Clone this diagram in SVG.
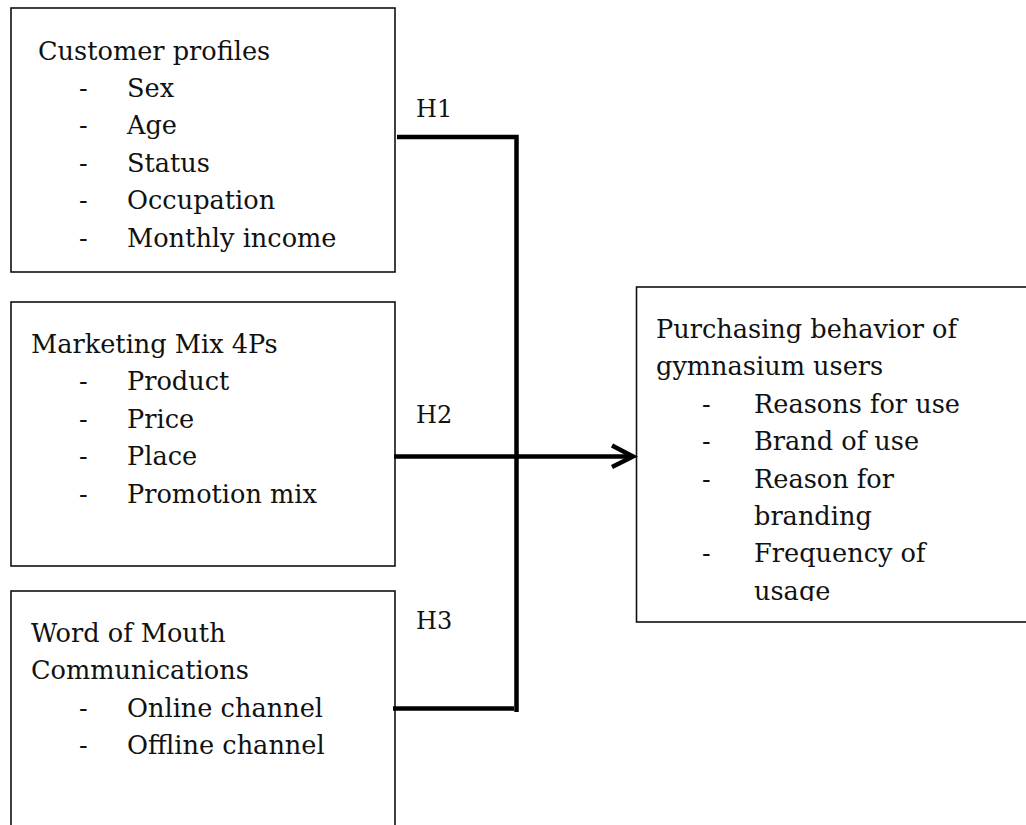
<svg xmlns="http://www.w3.org/2000/svg" width="1026" height="825" viewBox="0 0 1026 825">
<style>
.box{fill:#fff;stroke:#111;stroke-width:1.6}
.t{font-family:"DejaVu Serif","Liberation Serif",serif;font-size:25.6px;fill:#111}
.h{font-family:"DejaVu Serif","Liberation Serif",serif;font-size:24px;fill:#111}
.c{fill:none;stroke:#000;stroke-width:4.5}
</style>
<defs>
<clipPath id="clipR"><rect x="637" y="288" width="400" height="313"/></clipPath>
</defs>
<rect width="1026" height="825" fill="#fff"/>
<g id="node-customer">
<rect class="box" x="11" y="8" width="384" height="264"/>
<text class="t" x="38" y="60">Customer profiles</text>
<text class="t" x="79" y="97">-</text><text class="t" x="127" y="97">Sex</text>
<text class="t" x="79" y="134">-</text><text class="t" x="127" y="134">Age</text>
<text class="t" x="79" y="171.5">-</text><text class="t" x="127" y="171.5">Status</text>
<text class="t" x="79" y="209">-</text><text class="t" x="127" y="209">Occupation</text>
<text class="t" x="79" y="246.5">-</text><text class="t" x="127" y="246.5">Monthly income</text>
</g>
<g id="node-marketing">
<rect class="box" x="11" y="302" width="384" height="264"/>
<text class="t" x="31" y="353">Marketing Mix 4Ps</text>
<text class="t" x="79" y="390">-</text><text class="t" x="127" y="390">Product</text>
<text class="t" x="79" y="427.5">-</text><text class="t" x="127" y="427.5">Price</text>
<text class="t" x="79" y="465">-</text><text class="t" x="127" y="465">Place</text>
<text class="t" x="79" y="502.5">-</text><text class="t" x="127" y="502.5">Promotion mix</text>
</g>
<g id="node-wom">
<rect class="box" x="11" y="591" width="384" height="250"/>
<text class="t" x="31" y="642">Word of Mouth</text>
<text class="t" x="31" y="679">Communications</text>
<text class="t" x="79" y="716.5">-</text><text class="t" x="127" y="716.5">Online channel</text>
<text class="t" x="79" y="753.5">-</text><text class="t" x="127" y="753.5">Offline channel</text>
</g>
<g id="node-behavior">
<rect class="box" x="636.5" y="287" width="400" height="335"/>
<g clip-path="url(#clipR)">
<text class="t" x="656" y="337.5">Purchasing behavior of</text>
<text class="t" x="656" y="375">gymnasium users</text>
<text class="t" x="702" y="412.5">-</text><text class="t" x="754" y="412.5">Reasons for use</text>
<text class="t" x="702" y="450">-</text><text class="t" x="754" y="450">Brand of use</text>
<text class="t" x="702" y="487.5">-</text><text class="t" x="754" y="487.5">Reason for</text>
<text class="t" x="754" y="525">branding</text>
<text class="t" x="702" y="562">-</text><text class="t" x="754" y="562">Frequency of</text>
<text class="t" x="754" y="599.5">usage</text>
</g>
</g>
<g id="connectors">
<path class="c" d="M397 137 H516.5 V712"/>
<path class="c" d="M394 456.5 H632"/>
<path class="c" d="M612 445.5 L633 456.5 L612 467"/>
<path class="c" d="M393 708.5 H514"/>
<text class="h" x="416" y="117">H1</text>
<text class="h" x="416" y="423">H2</text>
<text class="h" x="416" y="629">H3</text>
</g>
</svg>
